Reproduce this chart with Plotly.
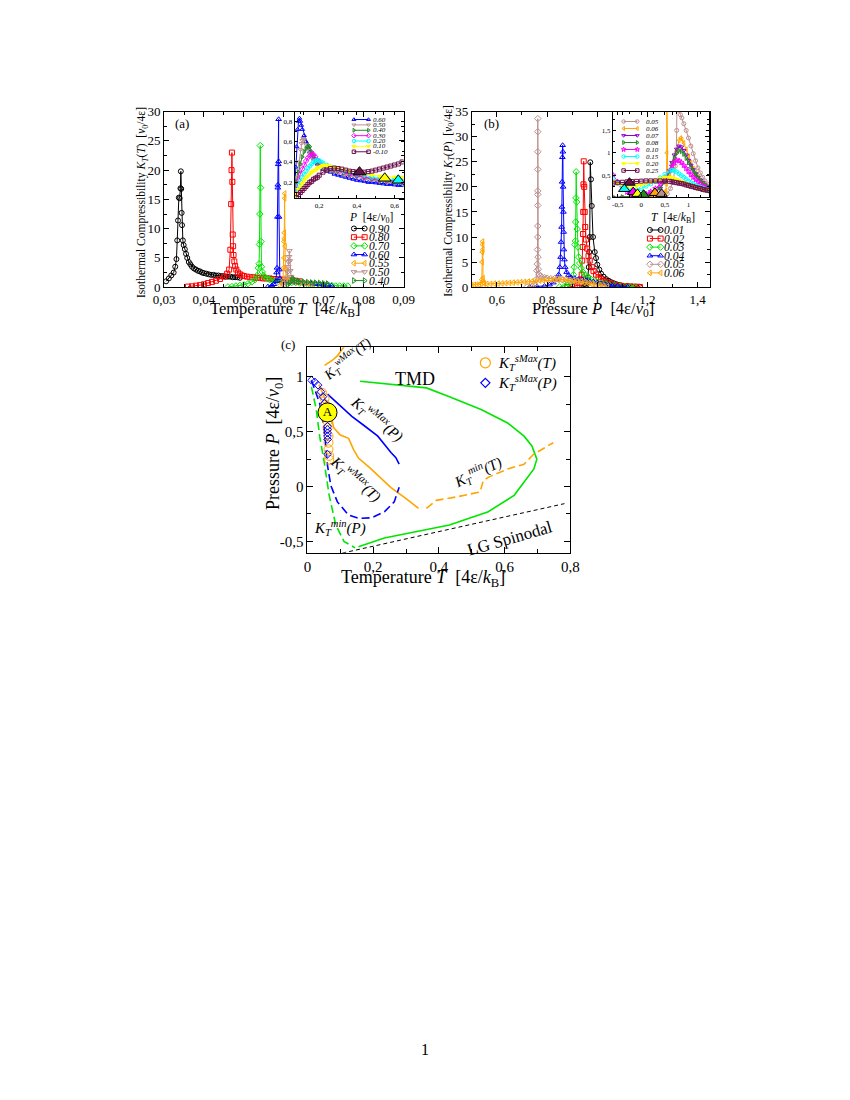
import plotly.graph_objects as go

# page is 850x1100; the html body adds an 8px margin, so the figure is 834x1084 placed at (8, 8)
OX, OY = 8, 8
FW, FH = 834, 1084
SERIF = "Liberation Serif"

# ================= DATA =================
# ---- Panel (a) main: K_T(T) along isobars (T, K_T) ----
a_labels = ["0.90", "0.80", "0.70", "0.60", "0.55", "0.50", "0.40"]
a_p090 = [(0.0305,1.0),(0.0312,1.5),(0.0318,2.0),(0.0324,2.5),(0.0328,3.5),(0.0331,4.8),(0.0333,8.0),(0.0335,11.4),
          (0.0337,15.3),(0.0339,15.2),(0.0341,16.9),(0.0342,19.8),(0.0343,16.8),(0.0344,12.7),(0.0345,10.6),(0.0347,8.0),
          (0.0349,7.2),(0.0352,6.5),(0.0355,5.7),(0.0358,5.0),(0.0362,4.3),(0.0366,3.9),(0.0370,3.5),(0.0375,3.2),
          (0.0380,3.0),(0.0385,2.8),(0.0390,2.7),(0.0395,2.5),(0.0400,2.4),(0.0406,2.3),(0.0412,2.2),(0.0418,2.1),
          (0.0424,2.1),(0.0430,2.0),(0.0436,2.0),(0.0442,1.9),(0.0448,1.9),(0.0454,1.8),(0.0460,1.8),(0.0466,1.8),
          (0.0472,1.7),(0.0478,1.7),(0.0484,1.7),(0.0490,1.6)]
a_p080 = [(0.0360,0.1),(0.0370,0.15),(0.0380,0.25),(0.0390,0.35),(0.0400,0.5),(0.0410,0.7),(0.0420,0.9),(0.0430,1.1),
          (0.0440,1.4),(0.0450,1.8),(0.0458,2.3),(0.0463,3.0),(0.0466,6.4),(0.0468,14.2),(0.0469,20.0),(0.0470,23.0),
          (0.0471,18.0),(0.0472,9.0),(0.0473,7.0),(0.0474,5.5),(0.0476,4.4),(0.0478,3.6),(0.0481,3.0),(0.0485,2.5),
          (0.0490,2.2),(0.0495,2.0),(0.0500,1.9),(0.0508,1.8),(0.0516,1.7),(0.0524,1.7),(0.0532,1.6),(0.0540,1.6),
          (0.0548,1.5),(0.0556,1.5),(0.0564,1.5),(0.0572,1.4),(0.0580,1.4),(0.0590,1.3),(0.0600,1.3),(0.0610,1.2),
          (0.0620,1.2),(0.0630,1.1),(0.0640,1.0)]
a_p070 = [(0.0460,0.05),(0.0470,0.1),(0.0480,0.2),(0.0490,0.3),(0.0500,0.4),(0.0510,0.6),(0.0520,0.9),(0.0528,1.3),
          (0.0533,2.0),(0.0536,3.3),(0.0538,4.0),(0.0539,7.3),(0.0540,12.5),(0.0541,24.2),(0.0542,17.0),(0.0543,7.8),
          (0.0544,3.5),(0.0546,2.6),(0.0549,2.0),(0.0553,1.7),(0.0558,1.5),(0.0564,1.3),(0.0570,1.2),(0.0578,1.1),
          (0.0586,1.0),(0.0594,1.0),(0.0602,0.9),(0.0610,0.9),(0.0620,0.8),(0.0630,0.8),(0.0640,0.7),(0.0650,0.6),
          (0.0660,0.5),(0.0670,0.5),(0.0680,0.4),(0.0690,0.4),(0.0700,0.3),(0.0710,0.3),(0.0720,0.3),(0.0730,0.2),
          (0.0740,0.2),(0.0750,0.2),(0.0760,0.2)]
a_p060 = [(0.0560,0.1),(0.0570,0.3),(0.0575,0.5),(0.0580,1.0),(0.0582,2.5),(0.0583,3.3),(0.0584,12.0),(0.0585,17.0),
          (0.0585,17.5),(0.0586,21.0),(0.0587,28.7),(0.0587,21.5),(0.0588,12.0),(0.0589,3.0),(0.0590,1.5),(0.0595,1.1),
          (0.0600,1.0),(0.0610,0.9),(0.0620,0.85),(0.0630,0.8),(0.0640,0.75),(0.0650,0.7),(0.0660,0.65),(0.0670,0.6),
          (0.0680,0.5),(0.0690,0.45),(0.0700,0.4),(0.0710,0.3),(0.0720,0.25)]
a_p055 = [(0.0590,0.3),(0.0595,0.6),(0.0598,1.2),(0.0599,3.3),(0.0600,5.0),(0.0600,7.8),(0.0601,8.3),(0.0601,9.3),
          (0.0602,15.2),(0.0602,16.0),(0.0603,7.0),(0.0604,3.0),(0.0606,1.8),(0.0610,1.3),(0.0615,1.1),(0.0620,1.0),
          (0.0630,0.9),(0.0640,0.8),(0.0650,0.7),(0.0660,0.6),(0.0670,0.5)]
a_p050 = [(0.0600,0.3),(0.0605,0.7),(0.0608,1.5),(0.0610,2.6),(0.0611,3.5),(0.0612,4.3),(0.0613,5.2),(0.0614,6.2),
          (0.0615,4.5),(0.0616,2.8),(0.0618,1.8),(0.0622,1.3),(0.0628,1.0),(0.0635,0.9),(0.0645,0.8),(0.0655,0.7),
          (0.0665,0.6)]
a_p040 = [(0.0610,0.4),(0.0615,0.7),(0.0620,1.1),(0.0623,1.5),(0.0626,1.3),(0.0630,1.1),(0.0635,1.0),(0.0640,0.95),
          (0.0650,0.9),(0.0660,0.85),(0.0670,0.8),(0.0680,0.75),(0.0690,0.7),(0.0700,0.65),(0.0710,0.6)]

# ---- Panel (a) inset: K_T(T) along lower isobars ----
ai_labels = ["0.60", "0.50", "0.40", "0.30", "0.20", "0.10", "-0.10"]
ai_p060 = [(0.070,0.15),(0.075,0.35),(0.080,0.55),(0.085,0.72),(0.090,0.80),(0.095,0.83),(0.100,0.80),(0.105,0.76),
           (0.110,0.72),(0.12,0.66),(0.13,0.60),(0.14,0.55),(0.15,0.50),(0.16,0.46),(0.17,0.43),(0.18,0.40),(0.19,0.38),
           (0.20,0.36),(0.22,0.33),(0.24,0.31),(0.26,0.30),(0.28,0.28),(0.30,0.27),(0.32,0.26),(0.34,0.25),(0.36,0.24),
           (0.38,0.23),(0.40,0.22),(0.42,0.215),(0.44,0.21),(0.46,0.20),(0.48,0.20),(0.50,0.195),(0.52,0.19),
           (0.54,0.185),(0.56,0.18),(0.58,0.18),(0.60,0.175),(0.62,0.17),(0.64,0.17)]
ai_p050 = [(0.070,0.12),(0.08,0.25),(0.09,0.40),(0.10,0.52),(0.105,0.58),(0.11,0.61),(0.115,0.63),(0.12,0.62),
           (0.13,0.57),(0.14,0.52),(0.15,0.48),(0.16,0.45),(0.17,0.42),(0.18,0.40),(0.19,0.38),(0.20,0.36),(0.22,0.34),
           (0.24,0.32),(0.26,0.31),(0.28,0.30),(0.30,0.29),(0.33,0.27),(0.36,0.26),(0.40,0.25),(0.44,0.23),(0.48,0.22),
           (0.52,0.21),(0.56,0.20),(0.60,0.19),(0.64,0.19)]
ai_p040 = [(0.07,0.10),(0.08,0.20),(0.09,0.30),(0.10,0.38),(0.11,0.45),(0.12,0.50),(0.13,0.53),(0.14,0.55),(0.145,0.56),
           (0.15,0.55),(0.16,0.50),(0.17,0.46),(0.18,0.43),(0.19,0.40),(0.20,0.38),(0.22,0.36),(0.24,0.34),(0.26,0.33),
           (0.28,0.32),(0.30,0.31),(0.33,0.29),(0.36,0.28),(0.40,0.26),(0.44,0.25),(0.48,0.23),(0.52,0.22),(0.56,0.21),
           (0.60,0.21),(0.64,0.20)]
ai_p030 = [(0.07,0.08),(0.08,0.15),(0.09,0.22),(0.10,0.28),(0.11,0.33),(0.12,0.37),(0.13,0.41),(0.14,0.44),(0.15,0.46),
           (0.16,0.475),(0.165,0.48),(0.17,0.47),(0.18,0.45),(0.19,0.42),(0.20,0.40),(0.22,0.37),(0.24,0.35),(0.26,0.34),
           (0.28,0.33),(0.30,0.32),(0.33,0.30),(0.36,0.28),(0.40,0.27),(0.44,0.25),(0.48,0.24),(0.52,0.23),(0.56,0.22),
           (0.60,0.22),(0.64,0.21)]
ai_p020 = [(0.07,0.07),(0.08,0.12),(0.09,0.17),(0.10,0.21),(0.11,0.25),(0.12,0.28),(0.13,0.31),(0.14,0.34),(0.15,0.36),
           (0.16,0.38),(0.17,0.40),(0.18,0.41),(0.19,0.42),(0.20,0.415),(0.21,0.40),(0.22,0.39),(0.24,0.37),(0.26,0.35),
           (0.28,0.34),(0.30,0.33),(0.33,0.31),(0.36,0.30),(0.40,0.28),(0.44,0.27),(0.48,0.25),(0.52,0.24),(0.56,0.23),
           (0.60,0.23),(0.64,0.22)]
ai_p010 = [(0.07,0.06),(0.08,0.09),(0.09,0.13),(0.10,0.16),(0.11,0.19),(0.12,0.22),(0.13,0.24),(0.14,0.26),(0.15,0.28),
           (0.16,0.30),(0.17,0.31),(0.18,0.32),(0.19,0.335),(0.20,0.345),(0.21,0.355),(0.22,0.365),(0.23,0.37),
           (0.24,0.365),(0.26,0.355),(0.28,0.345),(0.30,0.335),(0.33,0.32),(0.36,0.31),(0.40,0.30),(0.44,0.28),
           (0.48,0.27),(0.52,0.26),(0.56,0.25),(0.60,0.25),(0.64,0.25)]
ai_pm010 = [(0.08,0.05),(0.09,0.08),(0.10,0.10),(0.11,0.12),(0.12,0.14),(0.13,0.16),(0.14,0.18),(0.15,0.20),(0.16,0.21),
            (0.17,0.23),(0.18,0.24),(0.19,0.25),(0.20,0.27),(0.22,0.30),(0.24,0.32),(0.26,0.335),(0.28,0.34),
            (0.30,0.335),(0.32,0.33),(0.34,0.32),(0.36,0.31),(0.38,0.305),(0.40,0.30),(0.42,0.30),(0.44,0.30),
            (0.46,0.305),(0.48,0.31),(0.50,0.32),(0.52,0.33),(0.54,0.34),(0.56,0.35),(0.58,0.36),(0.60,0.37),
            (0.62,0.38),(0.64,0.40)]
ai_minima = [(0.414,0.30), (0.548,0.24), (0.620,0.22)]   # big triangles (-0.10, 0.10, 0.20)

# ---- Panel (b) main: K_T(P) along isotherms (P, K_T) ----
b_labels = ["0.01", "0.02", "0.03", "0.04", "0.05", "0.06"]
b_t001 = [(0.945,0.05),(0.950,0.1),(0.955,0.3),(0.960,0.8),(0.963,2.0),(0.966,4.0),(0.968,7.0),(0.970,10.0),
          (0.972,24.9),(0.975,21.5),(0.978,16.2),(0.983,10.0),(0.990,7.0),(0.995,5.8),(1.000,4.5),(1.008,3.5),
          (1.015,2.7),(1.025,2.1),(1.035,1.6),(1.045,1.3),(1.055,1.0),(1.065,0.8),(1.075,0.6),(1.085,0.45),
          (1.095,0.35),(1.105,0.25),(1.115,0.2),(1.125,0.15),(1.140,0.1),(1.155,0.08),(1.170,0.05)]
b_t002 = [(0.880,0.05),(0.900,0.1),(0.910,0.2),(0.920,0.4),(0.930,0.8),(0.935,1.5),(0.938,2.5),(0.940,5.3),
          (0.942,8.0),(0.943,10.6),(0.944,15.0),(0.945,20.5),(0.946,25.1),(0.948,20.0),(0.950,15.0),(0.952,12.0),
          (0.955,9.5),(0.960,7.7),(0.965,6.2),(0.970,5.3),(0.978,4.0),(0.985,3.2),(0.995,2.5),(1.005,2.0),
          (1.015,1.6),(1.025,1.3),(1.040,1.0),(1.055,0.7),(1.070,0.5),(1.085,0.35),(1.100,0.25),(1.115,0.2),
          (1.130,0.15),(1.145,0.1),(1.160,0.08),(1.170,0.05)]
b_t003 = [(0.850,0.05),(0.870,0.2),(0.880,0.4),(0.890,0.8),(0.898,1.5),(0.905,2.5),(0.908,4.0),(0.911,8.5),
          (0.913,9.2),(0.914,13.0),(0.915,17.8),(0.916,23.0),(0.918,17.0),(0.920,11.6),(0.923,8.0),(0.926,6.0),
          (0.930,4.8),(0.936,3.8),(0.943,3.0),(0.952,2.4),(0.962,2.0),(0.975,1.6),(0.990,1.3),(1.005,1.0),
          (1.020,0.8),(1.035,0.6),(1.050,0.45),(1.070,0.3),(1.090,0.2),(1.110,0.15),(1.130,0.1),(1.150,0.08)]
b_t004 = [(0.730,0.05),(0.760,0.1),(0.790,0.25),(0.810,0.5),(0.825,0.9),(0.838,1.5),(0.846,2.5),(0.851,4.0),
          (0.854,6.0),(0.856,9.0),(0.858,12.0),(0.859,16.0),(0.860,21.0),(0.861,25.9),(0.862,28.3),(0.863,27.0),
          (0.864,20.0),(0.865,15.0),(0.866,11.0),(0.867,7.5),(0.869,5.5),(0.872,4.0),(0.878,3.0),(0.885,2.4),
          (0.895,2.0),(0.910,1.8),(0.925,1.6),(0.940,1.5),(0.955,1.4),(0.970,1.2),(0.985,1.1),(1.000,0.9),
          (1.015,0.7),(1.030,0.6),(1.045,0.45),(1.060,0.35),(1.080,0.25),(1.100,0.15),(1.120,0.1)]
b_t005 = [(0.720,0.05),(0.740,0.2),(0.750,0.6),(0.756,1.5),(0.759,3.3),(0.761,4.6),(0.762,7.5),(0.763,10.0),
          (0.763,12.2),(0.763,16.3),(0.763,18.5),(0.763,19.2),(0.763,23.5),(0.763,27.0),(0.763,31.0),(0.763,33.6),
          (0.764,6.0),(0.765,3.6),(0.768,2.6),(0.773,2.2),(0.780,2.0),(0.790,1.9),(0.800,1.8),(0.815,1.7),
          (0.830,1.7),(0.845,1.6),(0.860,1.5),(0.875,1.5),(0.890,1.4),(0.905,1.3),(0.920,1.2),(0.935,1.1),
          (0.950,1.0),(0.965,0.9),(0.980,0.7),(0.995,0.5),(1.010,0.35),(1.025,0.2)]
b_t006 = [(0.500,0.4),(0.510,0.45),(0.520,0.5),(0.530,0.55),(0.537,0.7),(0.540,1.5),(0.541,5.0),(0.542,7.0),
          (0.543,8.5),(0.543,9.1),(0.544,7.5),(0.545,1.8),(0.547,0.9),(0.550,0.7),(0.560,0.65),(0.575,0.65),
          (0.590,0.7),(0.605,0.72),(0.620,0.75),(0.635,0.8),(0.650,0.85),(0.665,0.9),(0.680,0.95),(0.695,1.0),
          (0.710,1.05),(0.725,1.1),(0.740,1.15),(0.755,1.2),(0.770,1.3),(0.785,1.35),(0.800,1.4),(0.815,1.45),
          (0.830,1.5),(0.845,1.5),(0.860,1.5),(0.875,1.45),(0.890,1.4),(0.905,1.3),(0.920,1.2),(0.935,1.1),
          (0.950,0.95),(0.965,0.8),(0.980,0.65),(0.995,0.5),(1.010,0.35),(1.025,0.25),(1.040,0.15)]

# ---- Panel (b) inset: K_T(P) along higher isotherms ----
bi_labels = ["0.05", "0.06", "0.07", "0.08", "0.10", "0.15", "0.20", "0.25"]
bi_t005 = [(-0.6,0.0),(-0.4,0.0),(-0.2,0.0),(0.0,0.0),(0.2,0.0),(0.35,0.01),(0.45,0.03),(0.55,0.08),(0.62,0.2),
           (0.68,0.4),(0.72,0.7),(0.74,1.0),(0.75,1.5),(0.76,2.2),(0.76,3.0),(0.77,2.5),(0.78,2.1),(0.80,1.95),
           (0.83,1.85),(0.86,1.78),(0.90,1.65),(0.95,1.5),(1.00,1.33),(1.05,1.15),(1.10,0.98),(1.15,0.82),
           (1.20,0.66),(1.25,0.55),(1.30,0.45),(1.35,0.37),(1.40,0.3),(1.45,0.25)]
bi_t006 = [(-0.6,0.0),(-0.4,0.0),(-0.2,0.0),(0.0,0.01),(0.2,0.02),(0.35,0.04),(0.45,0.07),(0.50,0.1),(0.52,0.15),
           (0.53,0.3),(0.54,1.0),(0.54,2.5),(0.55,0.5),(0.56,0.45),(0.60,0.5),(0.65,0.62),(0.70,0.8),(0.75,1.05),
           (0.80,1.28),(0.83,1.33),(0.86,1.3),(0.90,1.22),(0.95,1.08),(1.00,0.92),(1.05,0.78),(1.10,0.65),
           (1.15,0.55),(1.20,0.45),(1.25,0.38),(1.30,0.32),(1.35,0.27),(1.40,0.23),(1.45,0.2)]
bi_P_grid2 = [-0.6,-0.4,-0.2,0.0,0.1,0.2,0.3,0.4,0.5,0.6,0.65,0.7,0.75,0.8,0.85,0.9,0.95,1.0,
              1.05,1.1,1.15,1.2,1.25,1.3,1.35,1.4,1.45]
bi_t007 = [0.0,0.0,0.01,0.02,0.04,0.07,0.12,0.2,0.35,0.6,0.78,0.95,1.08,1.15,1.13,1.05,0.95,0.83,
           0.72,0.62,0.53,0.45,0.39,0.33,0.28,0.24,0.21]
bi_t008 = [0.0,0.01,0.02,0.04,0.06,0.09,0.14,0.22,0.36,0.58,0.73,0.88,0.99,1.05,1.03,0.97,0.88,0.78,
           0.68,0.6,0.52,0.45,0.38,0.33,0.28,0.24,0.21]
bi_P_grid = [-0.6,-0.5,-0.4,-0.3,-0.2,-0.1,0.0,0.1,0.2,0.3,0.4,0.5,0.6,0.65,0.7,0.75,0.8,0.85,0.9,0.95,1.0,
             1.05,1.1,1.15,1.2,1.25,1.3,1.35,1.4,1.45]
bi_t010 = [0.5,0.35,0.22,0.12,0.06,0.04,0.05,0.08,0.13,0.2,0.3,0.43,0.6,0.7,0.78,0.83,0.82,0.78,0.72,0.65,0.58,
           0.51,0.45,0.4,0.35,0.3,0.26,0.23,0.2,0.18]
bi_t015 = [0.42,0.32,0.24,0.18,0.16,0.17,0.2,0.25,0.3,0.36,0.44,0.52,0.59,0.61,0.6,0.57,0.53,0.49,0.45,0.41,0.37,
           0.33,0.3,0.27,0.25,0.23,0.21,0.19,0.17,0.16]
bi_t020 = [0.36,0.31,0.27,0.25,0.25,0.26,0.28,0.31,0.34,0.38,0.42,0.45,0.45,0.44,0.42,0.4,0.38,0.36,0.33,0.31,0.29,
           0.27,0.25,0.23,0.22,0.2,0.19,0.18,0.17,0.16]
bi_t025 = [0.32,0.33,0.34,0.35,0.355,0.36,0.365,0.37,0.37,0.37,0.37,0.365,0.36,0.35,0.34,0.33,0.32,0.31,0.3,0.28,
           0.27,0.25,0.24,0.22,0.21,0.2,0.18,0.17,0.16,0.15]
# big triangles: (P, K) for T = 0.25, 0.15, 0.10, 0.20, 0.08, 0.06, 0.05
bi_minima = [(-0.25,0.33), (-0.36,0.19), (-0.17,0.12), (-0.08,0.08), (0.05,0.06), (0.29,0.10), (0.43,0.08)]

# ---- Panel (c): phase diagram (T, P) ----
c_wmax_T_upper = [(0.052,1.105),(0.075,1.15),(0.09,1.19),(0.10,1.225),(0.11,1.27),(0.115,1.30)]
c_wmax_T = [(0.035,0.93),(0.05,0.82),(0.065,0.72),(0.075,0.60),(0.08,0.535),(0.10,0.47),(0.125,0.44),(0.14,0.34),
            (0.155,0.26),(0.19,0.17),(0.214,0.10),(0.254,-0.01),(0.30,-0.11),(0.338,-0.20)]
c_wmax_P = [(0.061,0.844),(0.10,0.74),(0.135,0.64),(0.175,0.55),(0.214,0.46),(0.254,0.31),(0.269,0.263),(0.279,0.204)]
c_min_P_blue = [(0.012,0.97),(0.025,0.86),(0.037,0.76),(0.051,0.52),(0.061,0.19),(0.071,0.01),(0.091,-0.14),
                (0.125,-0.26),(0.155,-0.29),(0.195,-0.285),(0.234,-0.23),(0.264,-0.14),(0.279,-0.006)]
c_min_P_green = [(0.012,0.91),(0.027,0.70),(0.037,0.46),(0.051,0.22),(0.066,-0.08),(0.086,-0.35),(0.111,-0.50),
                 (0.145,-0.56)]
c_tmd = [(0.16,0.96),(0.362,0.90),(0.432,0.82),(0.53,0.70),(0.609,0.58),(0.659,0.46),(0.683,0.37),(0.698,0.25),
         (0.689,0.16),(0.659,0.04),(0.629,-0.08),(0.55,-0.23),(0.432,-0.35),(0.333,-0.41),(0.234,-0.47),
         (0.155,-0.55)]
c_min_T = [(0.362,-0.20),(0.392,-0.126),(0.451,-0.096),(0.525,-0.05),(0.535,0.054),(0.55,0.084),(0.609,0.16),
           (0.659,0.204),(0.688,0.294),(0.748,0.40)]
c_spinodal = [(0.106,-0.607),(0.782,-0.156)]
c_smax_T = [(0.044,0.856),(0.052,0.805),(0.055,0.745),(0.061,0.595),(0.061,0.535),(0.064,0.46),(0.064,0.40),
            (0.064,0.34),(0.066,0.28),(0.066,0.245)]
c_smax_P = [(0.012,0.97),(0.022,0.955),(0.032,0.925),(0.041,0.865),(0.047,0.82),(0.052,0.76),(0.061,0.55),
            (0.061,0.52),(0.061,0.49),(0.061,0.46),(0.061,0.43),(0.061,0.295)]
c_point_A = (0.061, 0.676)

# ================= STYLE =================
BLACK, RED, LIME, BLUE = "#000000", "#ff0000", "#00e600", "#0000ff"
ORANGE, ROSY, FOREST = "#ffa500", "#bc8f8f", "#228b22"
MAGENTA, CYAN, YELLOW, MAROON, VIOLET = "#ff00ff", "#00ffff", "#ffff00", "#6b0f4a", "#9400d3"

def px(x):
    """page pixel x -> paper fraction"""
    return (x - OX) / FW

def py(y):
    """page pixel y -> paper fraction"""
    return 1 - (y - OY) / FH

fig = go.Figure()

def xy(pts):
    return [p[0] for p in pts], [p[1] for p in pts]

def series(x, y, ax, color, symbol, size=5, width=1, mode="lines+markers", dash=None):
    fig.add_trace(go.Scatter(
        x=x, y=y, xaxis="x" + ax, yaxis="y" + ax, mode=mode,
        line=dict(color=color, width=width, dash=dash),
        marker=dict(symbol=symbol, size=size, color=color, line=dict(color=color, width=1)),
        showlegend=False, hoverinfo="skip"))

# ---- panel (a) main ----
a_data = [a_p090, a_p080, a_p070, a_p060, a_p055, a_p050, a_p040]
a_sty = [(BLACK, "circle-open"), (RED, "square-open"), (LIME, "diamond-open"), (BLUE, "triangle-up-open"),
         (ORANGE, "triangle-left-open"), (ROSY, "triangle-down-open"), (FOREST, "triangle-right-open")]
for pts, (c, s) in zip(a_data, a_sty):
    x, y = xy(pts)
    series(x, y, "", c, s, size=5)

# ---- panel (a) inset ----
ai_data = [ai_p060, ai_p050, ai_p040, ai_p030, ai_p020, ai_p010, ai_pm010]
ai_sty = [(BLUE, "triangle-up-open"), (ROSY, "triangle-down-open"), (FOREST, "triangle-right-open"),
          (MAGENTA, "diamond-open"), (CYAN, "circle-open"), (YELLOW, "triangle-down"), (MAROON, "square-open")]
for pts, (c, s) in zip(ai_data, ai_sty):
    x, y = xy(pts)
    series(x, y, "2", c, s, size=4)
x, y = xy(ai_minima)
fig.add_trace(go.Scatter(x=x, y=y, xaxis="x2", yaxis="y2", mode="markers",
                         marker=dict(symbol="triangle-up", size=11, color=[MAROON, YELLOW, CYAN],
                                     line=dict(color=BLACK, width=1)),
                         showlegend=False, hoverinfo="skip"))

# ---- panel (b) main ----
b_data = [b_t001, b_t002, b_t003, b_t004, b_t005, b_t006]
b_sty = [(BLACK, "circle-open"), (RED, "square-open"), (LIME, "diamond-open"), (BLUE, "triangle-up-open"),
         (ROSY, "diamond-open"), (ORANGE, "triangle-left-open")]
for pts, (c, s) in zip(b_data, b_sty):
    x, y = xy(pts)
    series(x, y, "3", c, s, size=5)

# ---- panel (b) inset ----
bi_sty = [(ROSY, "circle-open"), (ORANGE, "triangle-left-open"), (VIOLET, "triangle-down-open"),
          (FOREST, "triangle-right-open"), (MAGENTA, "star-open"), (CYAN, "circle-open"),
          (YELLOW, "triangle-down"), (MAROON, "square-open")]
bi_series = [xy(bi_t005), xy(bi_t006), (bi_P_grid2, bi_t007), (bi_P_grid2, bi_t008),
             (bi_P_grid, bi_t010), (bi_P_grid, bi_t015), (bi_P_grid, bi_t020), (bi_P_grid, bi_t025)]
for (x, y), (c, s) in zip(bi_series, bi_sty):
    series(x, y, "4", c, s, size=4)
x, y = xy(bi_minima)
fig.add_trace(go.Scatter(x=x, y=y, xaxis="x4", yaxis="y4", mode="markers",
                         marker=dict(symbol="triangle-up", size=10,
                                     color=[MAROON, CYAN, MAGENTA, YELLOW, FOREST, ORANGE, ROSY],
                                     line=dict(color=BLACK, width=1)),
                         showlegend=False, hoverinfo="skip"))

# ---- panel (c) ----
for pts, c, d in [(c_wmax_T_upper, ORANGE, None), (c_wmax_T, ORANGE, None), (c_wmax_P, BLUE, None),
                  (c_min_P_blue, BLUE, "8px,4px"), (c_min_P_green, LIME, "8px,4px"), (c_tmd, LIME, None),
                  (c_min_T, ORANGE, "8px,4px")]:
    x, y = xy(pts)
    series(x, y, "5", c, "circle", width=1.6, mode="lines", dash=d)
x, y = xy(c_spinodal)
series(x, y, "5", BLACK, "circle", width=1, mode="lines", dash="4px,3px")
x, y = xy(c_smax_T)
series(x, y, "5", ORANGE, "circle-open", size=9, mode="markers")
x, y = xy(c_smax_P)
series(x, y, "5", BLUE, "diamond-open", size=6, mode="markers")
fig.add_trace(go.Scatter(x=[c_point_A[0]], y=[c_point_A[1]], xaxis="x5", yaxis="y5", mode="markers+text",
                         marker=dict(symbol="circle", size=19, color=YELLOW, line=dict(color=BLACK, width=1)),
                         text=["A"], textposition="middle center",
                         textfont=dict(family=SERIF, size=13, color=BLACK),
                         showlegend=False, hoverinfo="skip"))

# ================= LEGENDS (drawn on a page-pixel overlay axis) =================
annotations = []

def ann(x, y, text, size, angle=0, xanchor="center", yanchor="middle"):
    annotations.append(dict(x=px(x), y=py(y), xref="paper", yref="paper", text=text, showarrow=False,
                            font=dict(family=SERIF, size=size, color=BLACK), textangle=angle,
                            xanchor=xanchor, yanchor=yanchor))

def legend_block(labels, styles, kx0, kx1, tx, y0, dy, msize, fsize):
    for i, (lab, (c, s)) in enumerate(zip(labels, styles)):
        yy = y0 + i * dy
        fig.add_trace(go.Scatter(x=[kx0, kx1], y=[yy, yy], xaxis="x6", yaxis="y6", mode="lines+markers",
                                 line=dict(color=c, width=1),
                                 marker=dict(symbol=s, size=msize, color=c, line=dict(color=c, width=1)),
                                 showlegend=False, hoverinfo="skip"))
        ann(tx, yy, "<i>" + lab + "</i>", fsize, xanchor="left")

legend_block(a_labels, a_sty, 352, 363, 365, 224.5, 8.8, 5, 11.5)
ann(345, 214, "<i>P</i>  [4ε/<i>v</i><sub>0</sub>]", 11.5, xanchor="left")
legend_block(b_labels, b_sty, 656, 667, 668.5, 226, 8.7, 5, 11.5)
ann(655, 214, "<i>T</i>  [4ε/<i>k</i><sub>B</sub>]", 11.5, xanchor="left")
legend_block(ai_labels, ai_sty, 352, 367, 370, 114, 5.45, 3.5, 7)
legend_block(bi_labels, bi_sty, 629, 643, 650, 116, 7.1, 3.5, 7)

# legend of (c)
fig.add_trace(go.Scatter(x=[487], y=[360.7], xaxis="x6", yaxis="y6", mode="markers",
                         marker=dict(symbol="circle-open", size=10, color=ORANGE, line=dict(color=ORANGE, width=1.2)),
                         showlegend=False, hoverinfo="skip"))
fig.add_trace(go.Scatter(x=[487], y=[381], xaxis="x6", yaxis="y6", mode="markers",
                         marker=dict(symbol="diamond-open", size=7, color=BLUE, line=dict(color=BLUE, width=1.2)),
                         showlegend=False, hoverinfo="skip"))
ann(498, 361, "<i>K</i><sub><i>T</i></sub><sup><i>sMax</i></sup><i>(T)</i>", 15, xanchor="left")
ann(498, 381, "<i>K</i><sub><i>T</i></sub><sup><i>sMax</i></sup><i>(P)</i>", 15, xanchor="left")

# ---- text labels ----
ann(175, 118, "(a)", 13)
ann(493, 118, "(b)", 13)
ann(284, 342, "(c)", 13)
ann(282, 306, "Temperature <i>T</i>  [4ε/<i>k</i><sub>B</sub>]", 16.5)
ann(135, 198, "Isothermal Compressibility <i>K</i><sub><i>T</i></sub>(<i>T</i>)  [<i>v</i><sub>0</sub>/4ε]", 11.5, angle=-90)
ann(598, 306, "Pressure <i>P</i>  [4ε/<i>v</i><sub>0</sub>]", 16.5)
ann(450, 196, "Isothermal Compressibility <i>K</i><sub><i>T</i></sub>(<i>P</i>)  [<i>v</i><sub>0</sub>/4ε]", 11.5, angle=-90)
ann(423, 579, "Temperature <i>T</i>  [4ε/<i>k</i><sub>B</sub>]", 18)
ann(271, 443, "Pressure <i>P</i>  [4ε/<i>v</i><sub>0</sub>]", 18, angle=-90)
ann(415, 377, "TMD", 18)
ann(512, 539, "LG Spinodal", 17, angle=-16)
ann(345, 357, "<i>K</i><sub><i>T</i></sub><sup><i>wMax</i></sup><i>(T)</i>", 14, angle=-40)
ann(376, 418, "<i>K</i><sub><i>T</i></sub><sup><i>wMax</i></sup><i>(P)</i>", 15, angle=39)
ann(354, 479, "<i>K</i><sub><i>T</i></sub><sup><i>wMax</i></sup><i>(T)</i>", 15, angle=41)
ann(479, 471, "<i>K</i><sub><i>T</i></sub><sup><i>min</i></sup><i>(T)</i>", 15, angle=-26)
ann(338, 528, "<i>K</i><sub><i>T</i></sub><sup><i>min</i></sup><i>(P)</i>", 15)
ann(425, 1057, "1", 16)

# ================= AXES =================
def axis(domain, rng, tickvals, ticktext, minor, fsize, ticklen=5, anchor=None):
    return dict(domain=domain, range=rng, showgrid=False, zeroline=False, showline=True, linecolor=BLACK,
                linewidth=1, mirror="ticks", ticks="inside", ticklen=ticklen, tickwidth=1, tickcolor=BLACK,
                tickvals=tickvals, ticktext=ticktext, tickfont=dict(family=SERIF, size=fsize, color=BLACK),
                minor=dict(tickvals=minor, ticks="inside", ticklen=max(2, ticklen - 2), tickcolor=BLACK),
                anchor=anchor, fixedrange=True)

a_xt = [0.03, 0.04, 0.05, 0.06, 0.07, 0.08, 0.09]
a_yt = [0, 5, 10, 15, 20, 25, 30]
b_xt = [0.6, 0.8, 1.0, 1.2, 1.4]
b_yt = [0, 5, 10, 15, 20, 25, 30, 35]

fig.update_layout(
    width=FW, height=FH, margin=dict(l=0, r=0, t=0, b=0),
    paper_bgcolor="white", plot_bgcolor="rgba(0,0,0,0)",
    annotations=annotations,
    xaxis=axis([px(157), px(403)], [0.03, 0.09], a_xt, ["0,03", "0,04", "0,05", "0,06", "0,07", "0,08", "0,09"],
               [0.035, 0.045, 0.055, 0.065, 0.075, 0.085], 13, anchor="y"),
    yaxis=axis([py(284), py(106)], [0, 30], a_yt, [str(v) for v in a_yt],
               [2.5, 7.5, 12.5, 17.5, 22.5, 27.5], 13, anchor="x"),
    xaxis2=axis([px(291), px(403)], [0.069, 0.648], [0.2, 0.4, 0.6], ["0,2", "0,4", "0,6"],
                [0.1, 0.3, 0.5], 7, ticklen=3, anchor="y2"),
    yaxis2=axis([py(194), py(106)], [0.042, 0.894], [0.2, 0.4, 0.6, 0.8], ["0,2", "0,4", "0,6", "0,8"],
                [0.1, 0.3, 0.5, 0.7], 7, ticklen=3, anchor="x2"),
    xaxis3=axis([px(473), px(718)], [0.5, 1.45], b_xt, ["0,6", "0,8", "1", "1,2", "1,4"],
                [0.5, 0.7, 0.9, 1.1, 1.3], 13, anchor="y3"),
    yaxis3=axis([py(284), py(106)], [0, 35], b_yt, [str(v) for v in b_yt],
                [2.5, 7.5, 12.5, 17.5, 22.5, 27.5, 32.5], 13, anchor="x3"),
    xaxis4=axis([px(618), px(717)], [-0.6, 1.44], [-0.5, 0, 0.5, 1], ["-0,5", "0", "0,5", "1"],
                [-0.25, 0.25, 0.75, 1.25], 7, ticklen=3, anchor="y4"),
    yaxis4=axis([py(193), py(106)], [0, 1.92], [0, 0.5, 1, 1.5], ["0", "0,5", "1", "1,5"],
                [0.25, 0.75, 1.25, 1.75], 7, ticklen=3, anchor="x4"),
    xaxis5=axis([px(304.3), px(574.3)], [0, 0.8], [0, 0.2, 0.4, 0.6, 0.8], ["0", "0,2", "0,4", "0,6", "0,8"],
                [0.1, 0.3, 0.5, 0.7], 15, ticklen=6, anchor="y5"),
    yaxis5=axis([py(553.3), py(345)], [-0.604, 1.27], [-0.5, 0, 0.5, 1], ["-0,5", "0", "0,5", "1"],
                [-0.25, 0.25, 0.75], 15, ticklen=6, anchor="x5"),
    xaxis6=dict(domain=[0, 1], range=[OX, OX + FW], visible=False, fixedrange=True, anchor="y6"),
    yaxis6=dict(domain=[0, 1], range=[OY + FH, OY], visible=False, fixedrange=True, anchor="x6"),
)

fig.write_html("out.html")
